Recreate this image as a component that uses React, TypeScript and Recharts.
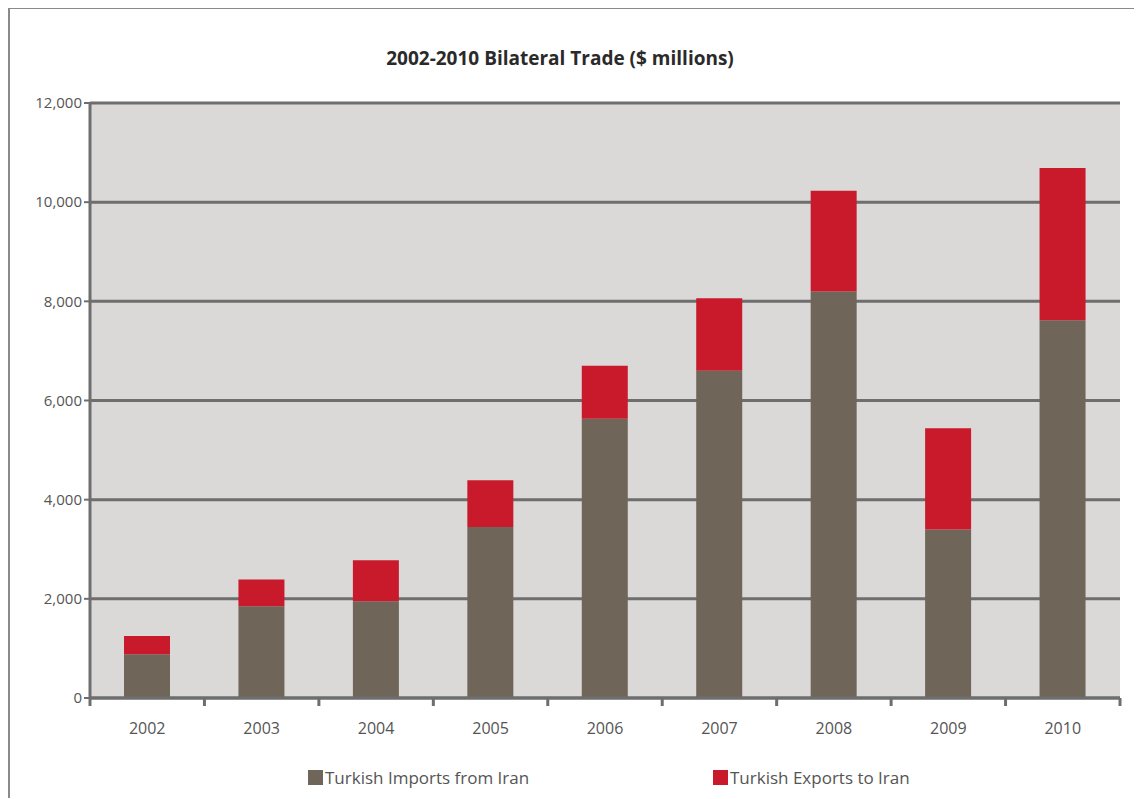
import React from 'react';
import { BarChart, Bar, XAxis, YAxis, CartesianGrid, Legend } from 'recharts';

const years = ['2002', '2003', '2004', '2005', '2006', '2007', '2008', '2009', '2010'];
const importsFromIran = [880, 1850, 1950, 3450, 5630, 6600, 8200, 3400, 7620];
const exportsToIran = [370, 540, 830, 940, 1070, 1460, 2030, 2040, 3070];
const yTicks = [0, 2000, 4000, 6000, 8000, 10000, 12000];
const boundaryTicks = [0, 1, 2, 3, 4, 5, 6, 7, 8, 9];

const data = years.map((year, i) => ({
  year,
  imports: importsFromIran[i],
  exports: exportsToIran[i],
  pos: i + 0.5,
}));

const FONT = '"Open Sans", "Liberation Sans", sans-serif';
const GRID = '#6e6e6e';

const NoLabel = () => <g />;

const LegendBox = () => (
  <div style={{ display: 'flex', paddingLeft: 300, fontFamily: FONT, fontSize: 17, color: '#555' }}>
    <div style={{ display: 'flex', alignItems: 'center', width: 405 }}>
      <span style={{ width: 15, height: 15, background: '#6f6659', marginRight: 2 }} />
      Turkish Imports from Iran
    </div>
    <div style={{ display: 'flex', alignItems: 'center' }}>
      <span style={{ width: 15, height: 15, background: '#c81a2b', marginRight: 2 }} />
      Turkish Exports to Iran
    </div>
  </div>
);

export default function App() {
  return (
    <div style={{ position: 'relative', width: 1134, height: 791, marginTop: -1, borderLeft: '2px solid #8a8a8a', borderTop: '2px solid #8a8a8a', boxSizing: 'border-box', background: '#fff' }}>
      <div style={{ position: 'absolute', top: 36, left: 0, width: 1100, textAlign: 'center', fontFamily: FONT, fontWeight: 700, fontSize: 19, color: '#2a2a2a' }}>
        2002-2010 Bilateral Trade ($ millions)
      </div>
      <div style={{ position: 'absolute', left: -2, top: -1 }}>
        <BarChart width={1134} height={791} data={data} margin={{ top: 95, right: 22, left: 22, bottom: 71 }} barSize={46}>
          <CartesianGrid xAxisId="b" vertical={false} stroke={GRID} strokeWidth={3} fill="#dbd8d8" fillOpacity={1} />
          <XAxis xAxisId="b" dataKey="year" height={29} axisLine={false} tickLine={false} tickMargin={18}
            tick={{ fill: '#555', fontSize: 16, fontFamily: FONT }} />
          <XAxis xAxisId="a" dataKey="pos" type="number" domain={[0, 9]} ticks={boundaryTicks} interval={0} allowDataOverflow height={1}
            tick={NoLabel} tickSize={8} tickLine={{ stroke: GRID, strokeWidth: 3 }} axisLine={{ stroke: GRID, strokeWidth: 3 }} />
          <YAxis width={60} domain={[0, 12000]} ticks={yTicks} interval={0}
            tickFormatter={(v: number) => v.toLocaleString('en-US')}
            tick={{ fill: '#555', fontSize: 15, fontFamily: FONT }}
            tickSize={6} tickLine={{ stroke: GRID, strokeWidth: 2 }} axisLine={{ stroke: GRID, strokeWidth: 3 }} />
          <YAxis yAxisId="right" orientation="right" width={0} domain={[0, 12000]} tick={false} tickLine={false}
            axisLine={{ stroke: GRID, strokeWidth: 3 }} />
          <Legend verticalAlign="middle" align="center" layout="horizontal" content={LegendBox}
            wrapperStyle={{ top: 758, left: 0, width: 1134 }} />
          <Bar xAxisId="b" dataKey="imports" stackId="t" fill="#6f6659" isAnimationActive={false} name="Turkish Imports from Iran" />
          <Bar xAxisId="b" dataKey="exports" stackId="t" fill="#c81a2b" isAnimationActive={false} name="Turkish Exports to Iran" />
        </BarChart>
      </div>
    </div>
  );
}
